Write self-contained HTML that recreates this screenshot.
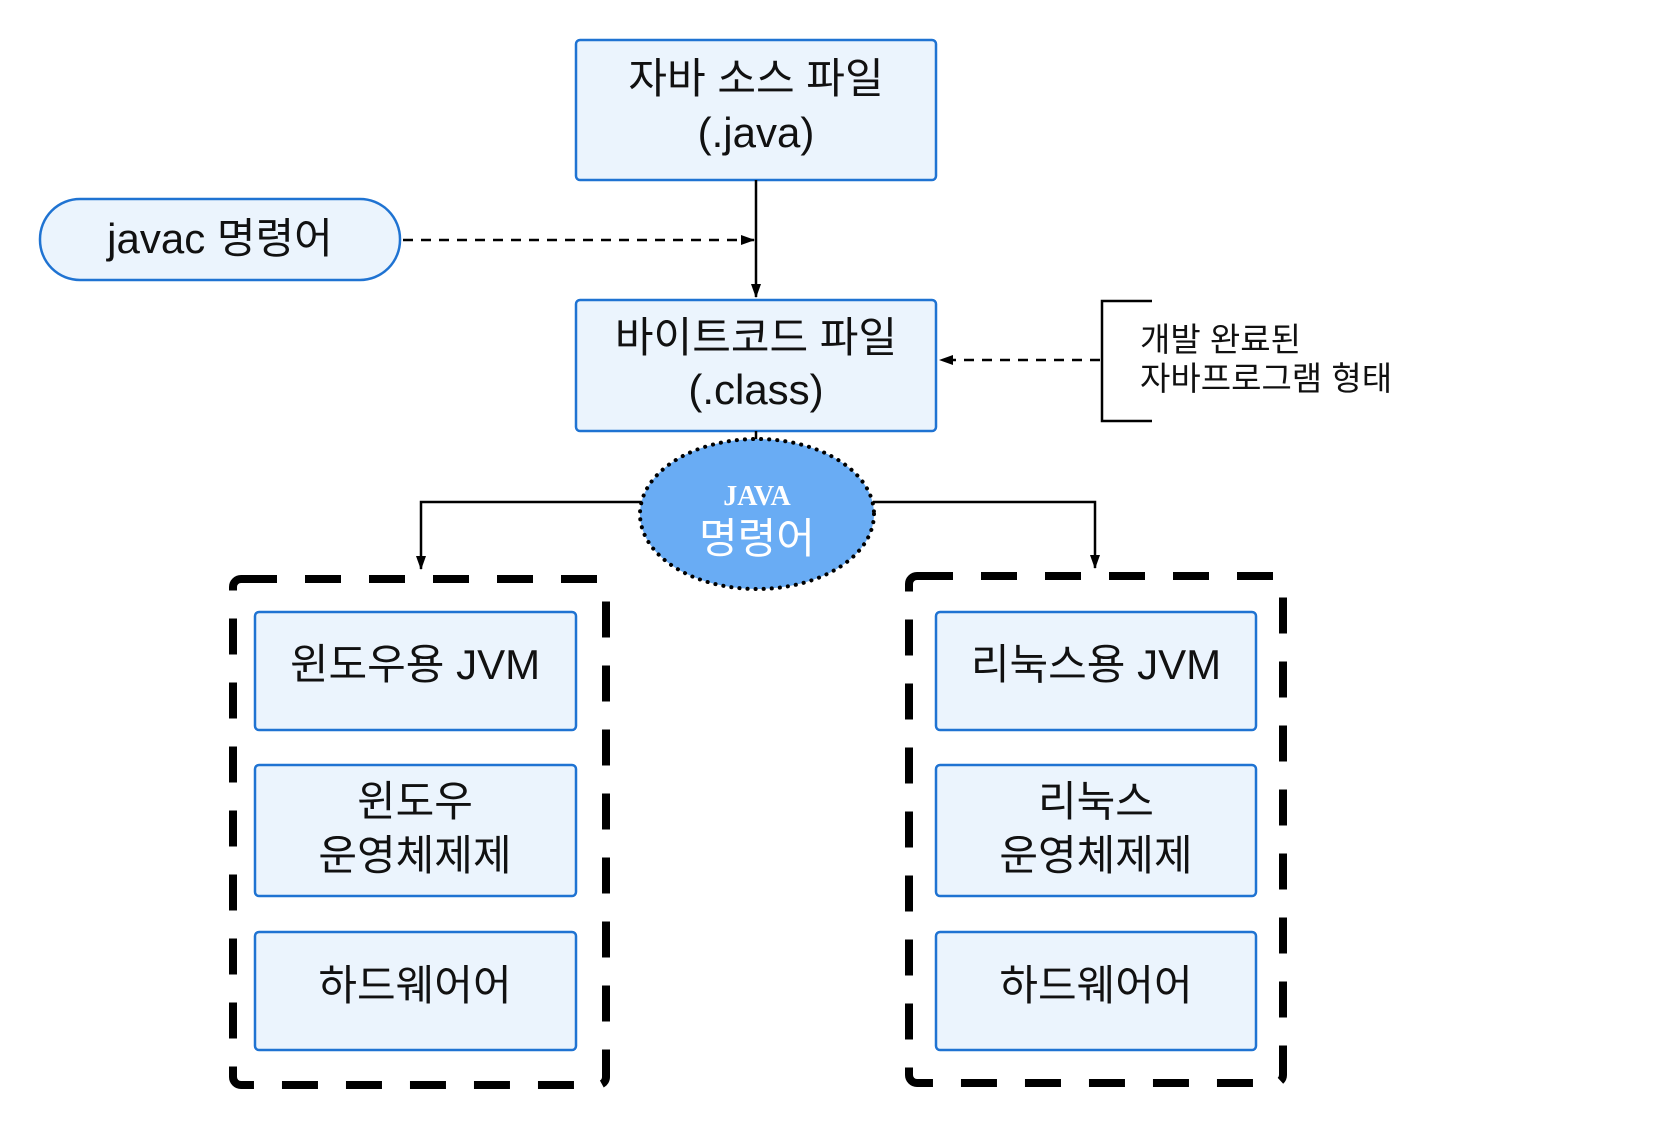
<!DOCTYPE html>
<html><head><meta charset="utf-8"><style>
body{margin:0;width:1660px;height:1124px;background:#fff;overflow:hidden}
svg text{font-family:"Liberation Sans","Noto Sans CJK KR",sans-serif;}
</style></head><body>
<svg width="1660" height="1124" viewBox="0 0 1660 1124" xmlns="http://www.w3.org/2000/svg">
<defs>
<marker id="a" markerWidth="10" markerHeight="10" refX="9" refY="5" orient="auto" markerUnits="userSpaceOnUse" viewBox="0 0 10 10"><path d="M0,0 L10,5 L0,10 Z" fill="#000"/></marker>
<marker id="b" markerWidth="14" markerHeight="14" refX="13" refY="7" orient="auto" markerUnits="userSpaceOnUse" viewBox="0 0 14 14"><path d="M0,2 L14,7 L0,12 Z" fill="#000"/></marker>
</defs>
<g fill="#ebf4fd" stroke="#1f73d2" stroke-width="2.5">
<rect x="576" y="40" width="360" height="140" rx="4"/>
<rect x="40" y="199" width="360" height="81" rx="40"/>
<rect x="576" y="300" width="360" height="131" rx="4"/>
<rect x="255" y="612" width="321" height="118" rx="4"/>
<rect x="255" y="765" width="321" height="131" rx="4"/>
<rect x="255" y="932" width="321" height="118" rx="4"/>
<rect x="936" y="612" width="320" height="118" rx="4"/>
<rect x="936" y="765" width="320" height="131" rx="4"/>
<rect x="936" y="932" width="320" height="118" rx="4"/>
</g>
<g stroke="#000" stroke-width="2.5" fill="none">
<line x1="756" y1="180" x2="756" y2="297" marker-end="url(#b)"/>
<line x1="403" y1="240" x2="754" y2="240" stroke-dasharray="10,8" marker-end="url(#b)"/>
<line x1="1100" y1="360" x2="940" y2="360" stroke-dasharray="10,8" marker-end="url(#b)"/>
<path d="M1152,301 H1102 V421 H1152"/>
<line x1="756" y1="431" x2="756" y2="440"/>
<path d="M642,502 H421 V569" marker-end="url(#b)"/>
<path d="M873,502 H1095 V568" marker-end="url(#b)"/>
</g>
<ellipse cx="757" cy="514" rx="117" ry="75" fill="#69acf4" stroke="#000" stroke-width="4" stroke-dasharray="0.1,8" stroke-linecap="round"/>
<g fill="none" stroke="#000" stroke-width="8" stroke-dasharray="36,28">
<rect x="233" y="579" width="373" height="506" rx="8"/>
<rect x="909" y="576" width="374" height="507" rx="8"/>
</g>
<g font-size="42" text-anchor="middle" fill="#111">
<text x="756" y="93">자바 소스 파일</text>
<text x="756" y="147">(.java)</text>
<text x="220" y="253">javac 명령어</text>
<text x="756" y="352">바이트코드 파일</text>
<text x="756" y="404">(.class)</text>
<text x="415" y="679">윈도우용 JVM</text>
<text x="415" y="816">윈도우</text>
<text x="415" y="870">운영체제제</text>
<text x="415" y="1000">하드웨어어</text>
<text x="1096" y="679">리눅스용 JVM</text>
<text x="1096" y="816">리눅스</text>
<text x="1096" y="870">운영체제제</text>
<text x="1096" y="1000">하드웨어어</text>
</g>
<text x="757" y="505" font-size="28" font-weight="bold" text-anchor="middle" fill="#fff" style="font-family:'Liberation Serif',serif">JAVA</text>
<text x="757" y="553" font-size="42" text-anchor="middle" fill="#fff">명령어</text>
<g font-size="33" fill="#111">
<text x="1140" y="351">개발 완료된</text>
<text x="1140" y="390">자바프로그램 형태</text>
</g>
</svg>
</body></html>
